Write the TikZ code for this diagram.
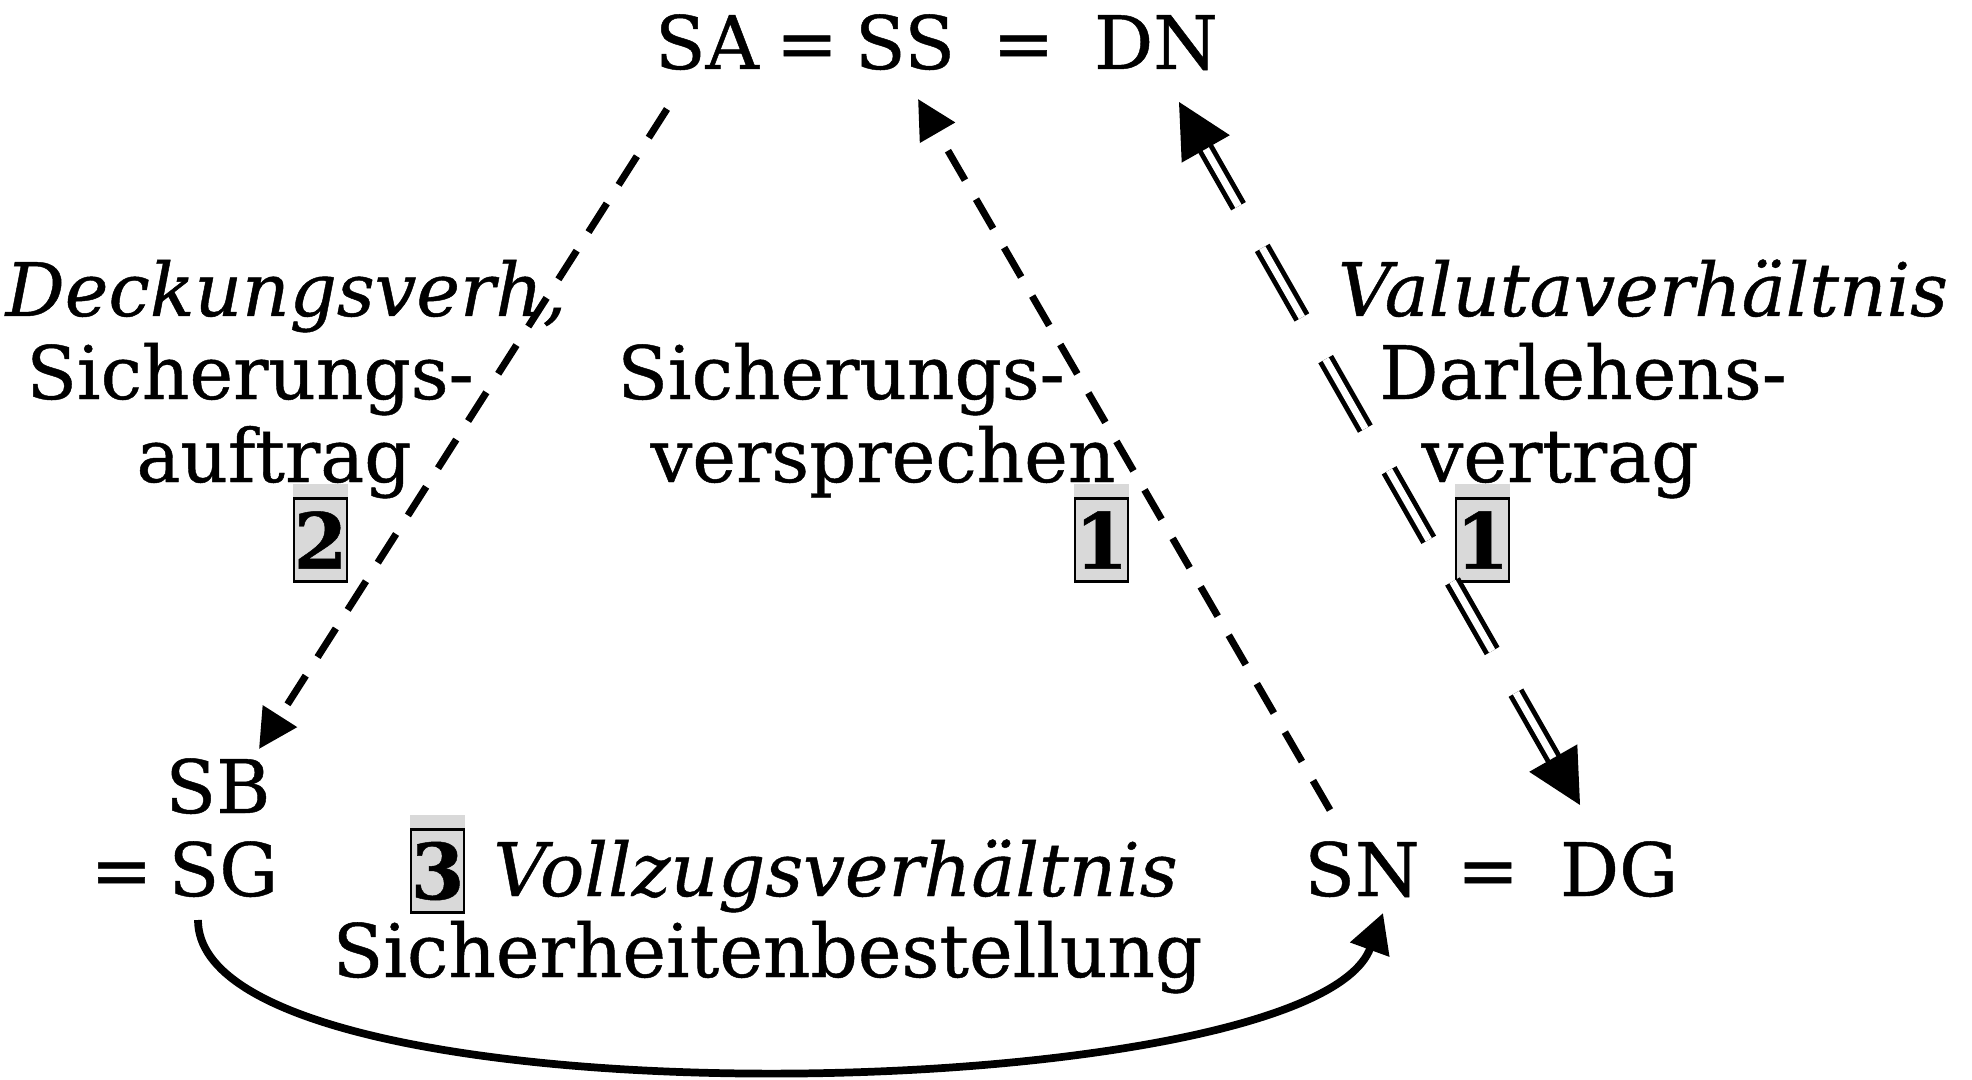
\documentclass[tikz,border=0pt]{standalone}
\usepackage{fontspec}
\setmainfont{DejaVu Serif}[FakeBold=0.6, ItalicFeatures={FakeBold=0.6}]
\usetikzlibrary{positioning, arrows.meta, calc}
\definecolor{boxgray}{gray}{0.85}

\begin{document}
\begin{tikzpicture}[
    lbl/.style={font=\fontsize{21pt}{25pt}\selectfont, inner sep=0pt, anchor=base},
    ilbl/.style={lbl, font=\fontsize{21pt}{25pt}\selectfont\itshape},
    numbox/.style={draw=black, line width=0.6pt, fill=boxgray, minimum width=0.47cm, minimum height=0.83cm, inner sep=0pt, font=\fontsize{22pt}{24pt}\selectfont\bfseries},
    dasharrow/.style={line width=2pt, dash pattern=on 0.34cm off 0.22cm, -{Triangle[length=3.9mm, width=3.9mm]}},
    dblline/.style={double, line width=1.4pt, double distance=2pt, dash pattern=on 0.8cm off 0.48cm},
    dbltip/.style={-{Triangle[length=5.4mm, width=5.5mm]}},
    curvearrow/.style={line width=2.2pt, -{Triangle[length=3.9mm, width=4mm]}},
]
\useasboundingbox (0,0) rectangle (19.72,-10.8);

% top row
\node[lbl] (sa) at (7.07,-0.69) {SA};
\node[lbl] (eqa) at (8.07,-0.69) {=};
\node[lbl] (ss) at (9.05,-0.69) {SS};
\node[lbl] (eqb) at (10.235,-0.69) {=};
\node[lbl] (dn) at (11.56,-0.69) {DN};

% Deckungsverhaeltnis
\node[ilbl] (deckung) at (2.86,-3.16) {Deckungsverh,};
\node[lbl] (sichauf) at (2.50,-3.99) {Sicherungs-};
\node[lbl] (auftrag) at (2.74,-4.82) {auftrag};
\node[numbox] (nr2) at (3.205,-5.40) {2};

% Sicherungsversprechen
\node[lbl] (sichver) at (8.41,-3.99) {Sicherungs-};
\node[lbl] (versprechen) at (8.83,-4.82) {versprechen};
\node[numbox] (nr1a) at (11.015,-5.40) {1};

% Valutaverhaeltnis
\node[ilbl] (valuta) at (16.43,-3.16) {Valutaverhältnis};
\node[lbl] (darlehen) at (15.83,-3.99) {Darlehens-};
\node[lbl] (vertrag) at (15.60,-4.82) {vertrag};
\node[numbox] (nr1b) at (14.825,-5.40) {1};

% bottom row
\node[lbl] (sb) at (2.18,-8.13) {SB};
\node[lbl] (eqsg) at (1.215,-8.96) {=};
\node[lbl] (sg) at (2.235,-8.96) {SG};
\node[numbox] (nr3) at (4.375,-8.71) {3};
\node[ilbl] (vollzug) at (8.355,-8.96) {Vollzugsverhältnis};
\node[lbl] (bestellung) at (7.675,-9.77) {Sicherheitenbestellung};
\node[lbl] (sn) at (13.62,-8.96) {SN};
\node[lbl] (eqdg) at (14.88,-8.96) {=};
\node[lbl] (dg) at (16.19,-8.96) {DG};

% grey strips above the number boxes
\foreach \b in {nr2, nr1a, nr1b, nr3}
    \fill[boxgray] (\b.north west) rectangle ([yshift=0.13cm]\b.north east);

% arrows
\draw[dasharrow] ([shift={(-0.40,-0.40)}]sa.base) -- ([shift={(0.41,0.64)}]sb.base);
\draw[dasharrow] ([shift={(-0.32,0.86)}]sn.base) -- ([shift={(0.13,-0.30)}]ss.base);

\coordinate (dntip) at ([shift={(0.23,-0.33)}]dn.base);
\coordinate (dgtip) at ([shift={(-0.39,0.91)}]dg.base);
\draw[dblline, shorten <=4mm, shorten >=4mm] (dntip) -- (dgtip);
\draw[dbltip] ($(dntip)!5.4mm!(dgtip)$) -- (dntip);
\draw[dbltip] ($(dgtip)!5.4mm!(dntip)$) -- (dgtip);

\draw[curvearrow] ([shift={(-0.255,-0.24)}]sg.base) to[out=-90, in=-110, distance=2.1cm] ([shift={(0.21,-0.17)}]sn.base);
\end{tikzpicture}
\end{document}
